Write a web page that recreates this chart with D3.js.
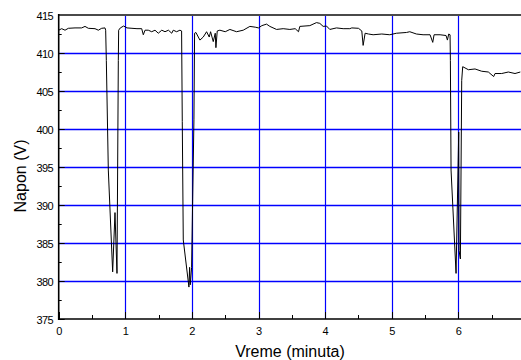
<!DOCTYPE html>
<html>
<head>
<meta charset="utf-8">
<script src="https://cdn.jsdelivr.net/npm/d3@7"></script>
<style>
  body { margin: 0; background: #fff; }
  svg { display: block; font-family: "Liberation Sans", Arial, sans-serif; }
</style>
</head>
<body>
<svg id="chart"></svg>
<script>
// minutes
const times = [0.00,0.045,0.095,0.145,0.245,0.345,0.395,0.445,0.545,0.595,0.645,0.695,0.705,0.715,0.745,0.81,0.845,0.875,0.895,0.90,
  0.925,0.975,1.025,1.10,1.175,1.246,1.27,1.296,1.345,1.396,1.446,1.495,1.547,1.596,1.647,1.697,1.72,1.77,1.82,1.845,
  1.855,1.87,1.955,1.965,1.975,1.995,2.03,2.04,2.06,2.12,2.17,2.22,2.26,2.28,2.32,2.35,2.36,2.38,2.42,2.50,
  2.57,2.67,2.77,2.87,2.95,3.00,3.05,3.12,3.17,3.27,3.37,3.47,3.55,3.60,3.62,3.77,3.87,3.92,3.97,4.02,
  4.07,4.17,4.27,4.37,4.40,4.50,4.55,4.57,4.60,4.65,4.72,4.85,4.97,5.07,5.22,5.27,5.37,5.47,5.575,5.615,
  5.635,5.725,5.815,5.835,5.855,5.875,5.88,5.89,5.965,6.005,6.01,6.03,6.05,6.065,6.15,6.25,6.35,6.45,6.53,6.55,
  6.65,6.75,6.85,6.93];

// volts
const volts = [413.0,413.2,413.0,413.25,413.3,413.3,413.5,413.25,413.2,413.0,413.25,413.3,413.0,409.0,394.6,381.2,389.0,381.0,409.0,413.0,
  413.3,413.55,413.3,413.25,413.2,413.2,412.4,413.0,413.0,412.8,413.0,412.6,413.0,412.8,413.0,412.6,413.0,412.8,413.0,412.9,
  401.0,385.4,379.2,381.8,379.5,381.8,401.2,412.6,412.7,411.7,412.1,412.8,412.1,412.8,411.5,412.6,410.7,412.9,413.0,412.8,
  413.1,412.8,413.0,413.5,413.4,413.3,413.6,413.8,413.5,413.1,413.2,413.1,413.2,412.8,413.5,413.6,414.0,413.9,413.5,413.55,
  413.1,413.3,413.2,413.2,413.3,413.25,412.9,411.0,412.6,412.5,412.4,412.5,412.4,412.6,412.7,412.8,412.5,412.4,412.4,411.4,
  412.4,412.4,412.3,411.7,412.5,412.4,409.0,394.6,381.0,399.6,384.0,382.9,406.4,408.2,407.8,407.9,407.6,407.5,406.9,407.3,
  407.3,407.5,407.3,407.5];

const xTicks = [0, 1, 2, 3, 4, 5, 6];
const xMinor = [0.5, 1.5, 2.5, 3.5, 4.5, 5.5, 6.5];
const yTicks = [375, 380, 385, 390, 395, 400, 405, 410, 415];
const yMinor = [377.5, 382.5, 387.5, 392.5, 397.5, 402.5, 407.5, 412.5];
const gridX = [1, 2, 3, 4, 5, 6];
const gridY = [380, 385, 390, 395, 400, 405, 410];

const width = 521, height = 360;
const plot = { left: 58.7, right: 521, top: 15, bottom: 319 };

const svg = d3.select("#chart").attr("width", width).attr("height", height);

const x = d3.scaleLinear().domain([0, 6.94]).range([plot.left, plot.right]);
const y = d3.scaleLinear().domain([375, 415]).range([plot.bottom, plot.top]);

const grid = svg.append("g").attr("stroke", "#0000ff");
grid.selectAll(".gx").data(gridX).enter().append("line")
  .attr("stroke-width", 1.2)
  .attr("x1", d => Math.round(x(d)) + 0.5).attr("x2", d => Math.round(x(d)) + 0.5)
  .attr("y1", plot.top).attr("y2", plot.bottom);
grid.selectAll(".gy").data(gridY).enter().append("line")
  .attr("stroke-width", 1.5)
  .attr("x1", plot.left).attr("x2", plot.right)
  .attr("y1", d => Math.round(y(d)) + 0.5).attr("y2", d => Math.round(y(d)) + 0.5);

// the trace
const line = d3.line().x((d, i) => x(times[i])).y(d => y(d));
svg.append("path")
  .datum(volts)
  .attr("d", line)
  .attr("fill", "none")
  .attr("stroke", "#000")
  .attr("stroke-width", 1)
  .attr("stroke-linejoin", "round");

// ticks, pointing inward
const ticks = svg.append("g").attr("stroke", "#000").attr("stroke-width", 1);
ticks.selectAll(".yt").data(yTicks).enter().append("line")
  .attr("x1", plot.left).attr("x2", plot.left + 6)
  .attr("y1", d => Math.round(y(d)) + 0.5).attr("y2", d => Math.round(y(d)) + 0.5);
ticks.selectAll(".ym").data(yMinor).enter().append("line")
  .attr("x1", plot.left).attr("x2", plot.left + 3)
  .attr("y1", d => Math.round(y(d)) + 0.5).attr("y2", d => Math.round(y(d)) + 0.5);
ticks.selectAll(".xt").data(xTicks).enter().append("line")
  .attr("x1", d => Math.round(x(d)) + 0.5).attr("x2", d => Math.round(x(d)) + 0.5)
  .attr("y1", plot.bottom).attr("y2", plot.bottom - 7);
ticks.selectAll(".xm").data(xMinor).enter().append("line")
  .attr("x1", d => Math.round(x(d)) + 0.5).attr("x2", d => Math.round(x(d)) + 0.5)
  .attr("y1", plot.bottom).attr("y2", plot.bottom - 4);

// frame
svg.append("line").attr("x1", plot.left).attr("x2", plot.right).attr("y1", plot.top).attr("y2", plot.top)
  .attr("stroke", "#4a4a4a").attr("stroke-width", 2);
svg.append("line").attr("x1", plot.left).attr("x2", plot.left).attr("y1", plot.top - 1).attr("y2", plot.bottom + 1)
  .attr("stroke", "#000").attr("stroke-width", 1.6);
svg.append("line").attr("x1", plot.left).attr("x2", plot.right).attr("y1", plot.bottom).attr("y2", plot.bottom)
  .attr("stroke", "#000").attr("stroke-width", 1.6);

// tick labels
svg.selectAll(".ylab").data(yTicks).enter().append("text")
  .attr("x", 53).attr("y", d => y(d) + 5)
  .attr("text-anchor", "end")
  .attr("font-size", 11)
  .attr("letter-spacing", -0.6)
  .attr("fill", "#000")
  .text(d => d);

svg.selectAll(".xlab").data(xTicks).enter().append("text")
  .attr("x", d => x(d) + 0.5).attr("y", 335)
  .attr("text-anchor", "middle")
  .attr("font-size", 11)
  .attr("fill", "#000")
  .text(d => d);

// axis titles
svg.append("text")
  .attr("x", 290).attr("y", 357)
  .attr("text-anchor", "middle")
  .attr("font-size", 16)
  .attr("fill", "#000")
  .text("Vreme (minuta)");

svg.append("text")
  .attr("transform", "translate(26,176) rotate(-90)")
  .attr("text-anchor", "middle")
  .attr("font-size", 16)
  .attr("fill", "#000")
  .text("Napon (V)");
</script>
</body>
</html>
